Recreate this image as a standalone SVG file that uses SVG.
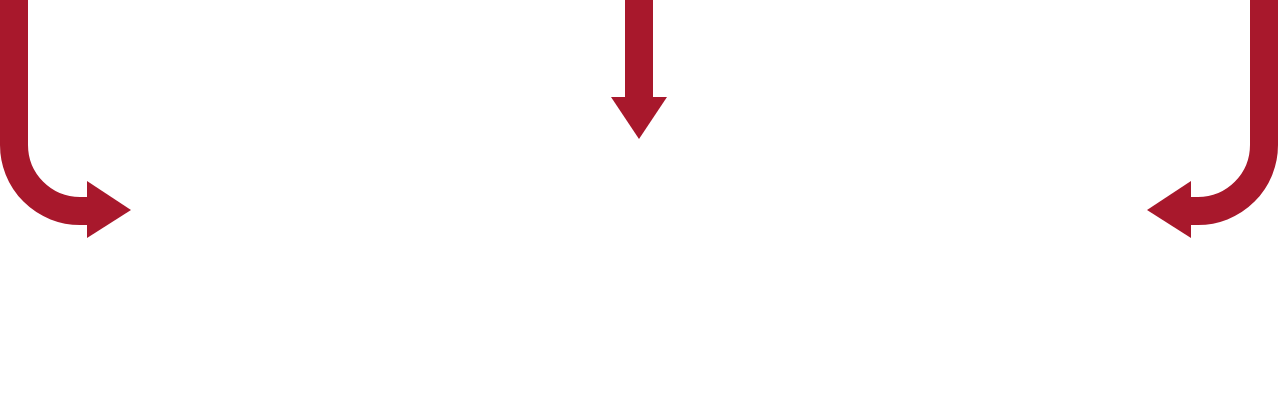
<svg xmlns="http://www.w3.org/2000/svg" width="1278" height="414" viewBox="0 0 1278 414">
<style>
.shaft{fill:none;stroke:#a8182c;stroke-width:28}
.head{fill:#a8182c}
</style>
<rect width="1278" height="414" fill="#ffffff"/>
<g id="connectors">
<g id="arrow-left">
<path class="shaft" d="M14 0 V145 A66 66 0 0 0 80 211 H90"/>
<polygon class="head" points="87,181 131,210 87,238"/>
</g>
<g id="arrow-middle">
<path class="shaft" d="M639 0 V100"/>
<polygon class="head" points="611,97 667,97 639,139"/>
</g>
<g id="arrow-right">
<path class="shaft" d="M1264 0 V145 A66 66 0 0 1 1198 211 H1188"/>
<polygon class="head" points="1191,181 1147,210 1191,238"/>
</g>
</g>
</svg>
